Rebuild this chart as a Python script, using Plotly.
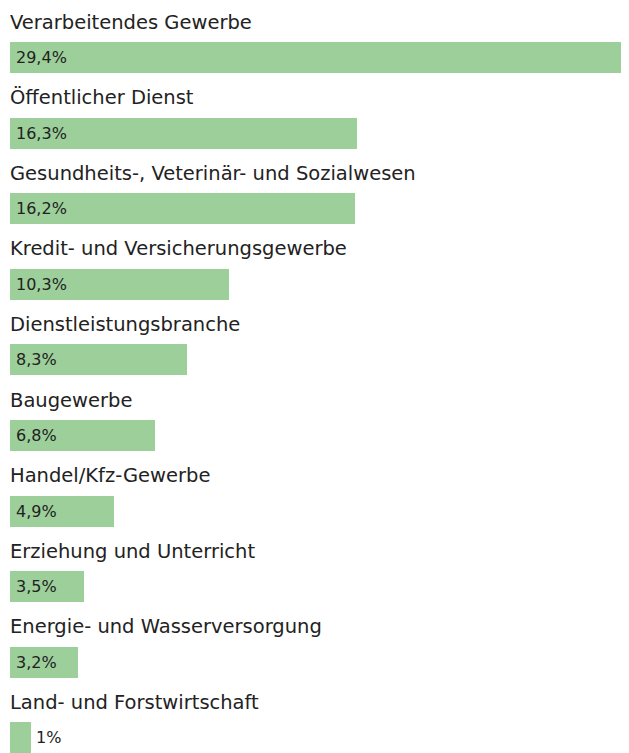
import plotly.graph_objects as go

categories = [
    "Verarbeitendes Gewerbe",
    "Öffentlicher Dienst",
    "Gesundheits-, Veterinär- und Sozialwesen",
    "Kredit- und Versicherungsgewerbe",
    "Dienstleistungsbranche",
    "Baugewerbe",
    "Handel/Kfz-Gewerbe",
    "Erziehung und Unterricht",
    "Energie- und Wasserversorgung",
    "Land- und Forstwirtschaft",
]
values = [29.4, 16.3, 16.2, 10.3, 8.3, 6.8, 4.9, 3.5, 3.2, 1.0]
value_labels = ["29,4%", "16,3%", "16,2%", "10,3%", "8,3%", "6,8%", "4,9%", "3,5%", "3,2%", "1%"]

BAR_COLOR = "#9ccf9a"
TEXT_COLOR = "#222222"
FONT = "DejaVu Sans"

rows = list(range(len(categories)))

fig = go.Figure()
fig.add_trace(go.Bar(
    x=values,
    y=rows,
    orientation="h",
    width=0.41,
    marker=dict(color=BAR_COLOR, line=dict(width=0)),
    hoverinfo="skip",
))

annotations = []
for i, (cat, v, lab) in enumerate(zip(categories, values, value_labels)):
    annotations.append(dict(
        x=0, y=i, xref="x", yref="y", text=cat, showarrow=False,
        xanchor="left", yanchor="middle", yshift=35.5, xshift=-2,
        font=dict(family=FONT, size=19.5, color=TEXT_COLOR),
    ))
    inside = v >= 2
    annotations.append(dict(
        x=0 if inside else v, y=i, xref="x", yref="y", text=lab, showarrow=False,
        xanchor="left", yanchor="middle", yshift=0, xshift=4 if inside else 3,
        font=dict(family=FONT, size=16, color=TEXT_COLOR),
    ))

fig.update_layout(
    width=621, height=745,
    margin=dict(l=2, r=0, t=0, b=0),
    paper_bgcolor="white", plot_bgcolor="white",
    showlegend=False,
    bargap=0,
    xaxis=dict(range=[0, 29.1], visible=False, fixedrange=True),
    yaxis=dict(range=[9.1997, -0.6548], visible=False, fixedrange=True),
    annotations=annotations,
)

fig.write_html("out.html")
